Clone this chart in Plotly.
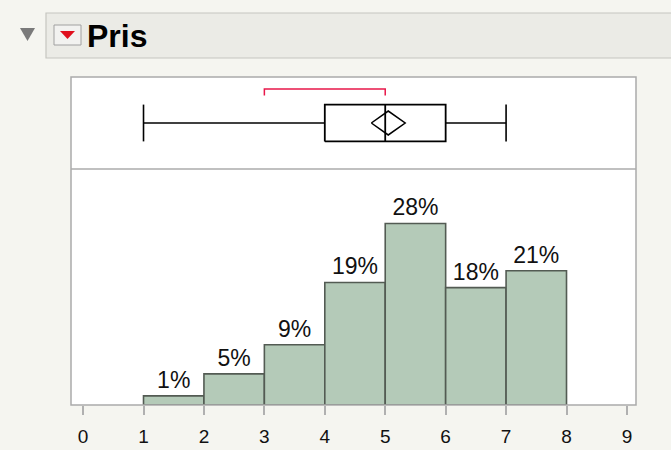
import plotly.graph_objects as go

# ---- data ----
bin_edges = [1, 2, 3, 4, 5, 6, 7, 8]
percents = [1.4, 4.8, 9.3, 18.9, 28.0, 18.1, 20.7]
pct_labels = ["1%", "5%", "9%", "19%", "28%", "18%", "21%"]
tick_vals = [0, 1, 2, 3, 4, 5, 6, 7, 8, 9]

box_min, box_q1, box_median, box_q3, box_max = 1, 4, 5, 6, 7
mean_val, mean_ci = 5.05, 0.28
shortest_half = [3, 5]
title = "Pris"

W, H = 671, 450
def px(x):
    return x / W
def py(y):
    return 1 - y / H

bg = "#f5f5f0"
bar_fill = "#b4cab8"
bar_line = "#535b53"
FONT = "Liberation Sans, Arial, Helvetica"

centers = [(a + b) / 2 for a, b in zip(bin_edges[:-1], bin_edges[1:])]
widths = [b - a for a, b in zip(bin_edges[:-1], bin_edges[1:])]

fig = go.Figure()
fig.add_trace(go.Bar(
    x=centers, y=percents, width=widths, text=pct_labels,
    textposition="outside", cliponaxis=False,
    textfont=dict(family=FONT, size=23, color="#111111"),
    marker=dict(color=bar_fill, line=dict(color=bar_line, width=1.6)),
    xaxis="x", yaxis="y", showlegend=False, hoverinfo="skip"))

# box plot (top panel), y-axis2 range [-1, 1]
bh = 0.4
fig.add_trace(go.Scatter(x=[box_min, box_q1, None, box_q3, box_max], y=[0, 0, None, 0, 0],
                         mode="lines", line=dict(color="black", width=1.6),
                         xaxis="x2", yaxis="y2", showlegend=False, hoverinfo="skip"))
fig.add_trace(go.Scatter(x=[box_min, box_min, None, box_max, box_max],
                         y=[-bh, bh, None, -bh, bh],
                         mode="lines", line=dict(color="black", width=1.6),
                         xaxis="x2", yaxis="y2", showlegend=False, hoverinfo="skip"))
fig.add_trace(go.Scatter(x=[box_q1, box_q3, box_q3, box_q1, box_q1, None, box_median, box_median],
                         y=[-bh, -bh, bh, bh, -bh, None, -bh, bh],
                         mode="lines", line=dict(color="black", width=1.8),
                         xaxis="x2", yaxis="y2", showlegend=False, hoverinfo="skip"))
dh = 0.26
fig.add_trace(go.Scatter(x=[mean_val - mean_ci, mean_val, mean_val + mean_ci, mean_val, mean_val - mean_ci],
                         y=[0, dh, 0, -dh, 0],
                         mode="lines", line=dict(color="black", width=1.5),
                         xaxis="x2", yaxis="y2", showlegend=False, hoverinfo="skip"))
fig.add_trace(go.Scatter(x=[shortest_half[0], shortest_half[0], shortest_half[1], shortest_half[1]],
                         y=[0.6, 0.74, 0.74, 0.6],
                         mode="lines", line=dict(color="#e8174a", width=1.5),
                         xaxis="x2", yaxis="y2", showlegend=False, hoverinfo="skip"))

x0p, x1p = px(71), px(636)
xr = [-0.2, 9.15]
fig.update_layout(
    width=W, height=H, margin=dict(l=0, r=0, t=0, b=0),
    paper_bgcolor=bg, plot_bgcolor="white",
    xaxis=dict(domain=[x0p, x1p], range=xr, tickvals=tick_vals,
               ticks="outside", ticklen=9, tickwidth=1.5, tickcolor="#b0b0b0",
               ticklabelstandoff=5,
               tickfont=dict(family=FONT, size=19, color="#111111"),
               showgrid=False, zeroline=False, showline=False, anchor="y"),
    yaxis=dict(domain=[py(405), py(169)], range=[0, 36.4], visible=False, showgrid=False),
    xaxis2=dict(domain=[x0p, x1p], range=xr, visible=False, anchor="y2", matches="x"),
    yaxis2=dict(domain=[py(169), py(77)], range=[-1, 1], visible=False, showgrid=False),
)

shapes = []
frame_col = "#ababab"
shapes.append(dict(type="rect", xref="paper", yref="paper", x0=x0p, x1=x1p, y0=py(405), y1=py(77),
                   line=dict(color=frame_col, width=1.5), fillcolor="rgba(0,0,0,0)", layer="above"))
shapes.append(dict(type="line", xref="paper", yref="paper", x0=x0p, x1=x1p, y0=py(169), y1=py(169),
                   line=dict(color=frame_col, width=1.5), layer="above"))
shapes.append(dict(type="rect", xref="paper", yref="paper", x0=px(46), x1=px(680), y0=py(58), y1=py(13),
                   line=dict(color="#c6c6c0", width=1.2), fillcolor="#ebebe6", layer="below"))
shapes.append(dict(type="path", xref="paper", yref="paper",
                   path=f"M {px(20)},{py(28)} L {px(35)},{py(28)} L {px(27.5)},{py(41)} Z",
                   fillcolor="#7a7a7a", line=dict(width=0), layer="above"))
shapes.append(dict(type="rect", xref="paper", yref="paper", x0=px(54), x1=px(81), y0=py(45), y1=py(25),
                   line=dict(color="#a0a0a0", width=1), fillcolor="#f2f2f0", layer="above"))
shapes.append(dict(type="path", xref="paper", yref="paper",
                   path=f"M {px(60)},{py(31)} L {px(75)},{py(31)} L {px(67.5)},{py(39)} Z",
                   fillcolor="#e0101e", line=dict(width=0), layer="above"))
fig.update_layout(shapes=shapes)

fig.add_annotation(x=px(85), y=py(36), xref="paper", yref="paper", xanchor="left", yanchor="middle",
                   text=f"<b>{title}</b>", showarrow=False,
                   font=dict(family=FONT, size=32, color="black"))

fig.write_html("out.html", config={"displayModeBar": False},
               post_script="document.body.style.margin='0';document.body.style.background='#f5f5f0';")
